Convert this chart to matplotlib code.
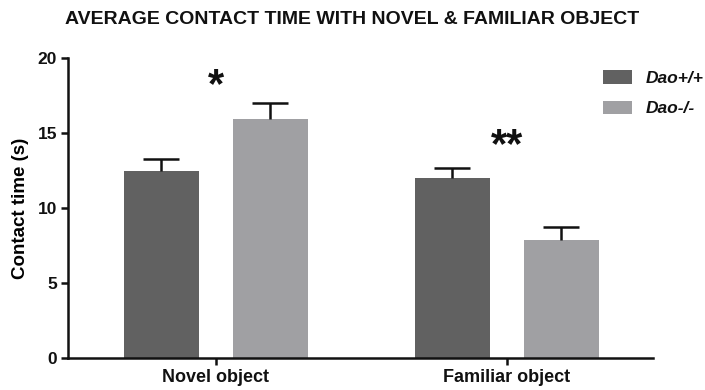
import matplotlib
matplotlib.use("Agg")
import matplotlib.pyplot as plt
from matplotlib.patches import Patch
import numpy as np

# Contact time data (mean and SEM, seconds)
groups = ["Novel object", "Familiar object"]
genotypes = ["Dao+/+", "Dao-/-"]
wt_mean = [12.45, 12.02]
wt_sem = [0.80, 0.67]
ko_mean = [15.90, 7.88]
ko_sem = [1.13, 0.88]
significance = ["*", "**"]
sig_height = [18.45, 14.4]

colors = ["#616161", "#a0a0a3"]
ink = "#111111"

plt.rcParams["font.family"] = ["Liberation Sans", "DejaVu Sans"]

fig = plt.figure(figsize=(7.05, 3.9), dpi=100)
ax = fig.add_axes([68 / 705, 32 / 390, 585 / 705, 300 / 390])

x = np.arange(len(groups))
off = 0.1875
w = 0.258

err_kw = dict(elinewidth=1.8, capthick=1.8, capsize=13, ecolor=ink)
for pos, mean, sem, col, lab in [(x - off, wt_mean, wt_sem, colors[0], genotypes[0]),
                                 (x + off, ko_mean, ko_sem, colors[1], genotypes[1])]:
    cont = ax.bar(pos, mean, w, color=col, label=lab,
                  yerr=[np.zeros(len(sem)), sem], error_kw=err_kw, zorder=2)
    # keep only the upper caps (one-sided SEM bars)
    _, caplines, _ = cont.errorbar.lines
    for cl in caplines:
        if np.allclose(cl.get_ydata(), mean):
            cl.set_visible(False)

for xi, s, h in zip(x, significance, sig_height):
    ax.text(xi, h, s, ha="center", va="center_baseline", fontsize=30,
            fontweight="bold", color=ink)

ax.set_xlim(-0.508, 1.503)
ax.set_ylim(0, 20)
ax.set_yticks([0, 5, 10, 15, 20])
ax.set_xticks(x)
ax.set_xticklabels(groups, fontsize=13, fontweight="bold")
for lab in ax.get_yticklabels():
    lab.set_fontweight("bold")
    lab.set_fontsize(12.5)
ax.set_ylabel("Contact time (s)", fontsize=13.5, fontweight="bold", labelpad=6)

for side in ["top", "right"]:
    ax.spines[side].set_visible(False)
for side in ["left", "bottom"]:
    ax.spines[side].set_linewidth(1.8)
    ax.spines[side].set_color(ink)
ax.tick_params(axis="both", width=1.8, length=5, color=ink,
               labelcolor=ink, pad=3)

handles = [Patch(facecolor=c, edgecolor="none") for c in colors]
leg = fig.legend(handles, genotypes, loc="upper left",
                 bbox_to_anchor=(603 / 705, 1 - 70 / 390), frameon=False,
                 borderpad=0, borderaxespad=0,
                 prop=dict(family=["Liberation Sans", "DejaVu Sans"], style="italic",
                           weight="bold", size=12.5),
                 handlelength=1.68, handleheight=0.82, handletextpad=0.75,
                 labelspacing=0.85)
for t in leg.get_texts():
    t.set_color(ink)

fig.text(0.5, 1 - 19 / 390, "AVERAGE CONTACT TIME WITH NOVEL & FAMILIAR OBJECT",
         ha="center", va="center", fontsize=14, fontweight="bold",
         color=ink)

fig.savefig("out.png", dpi=100)
